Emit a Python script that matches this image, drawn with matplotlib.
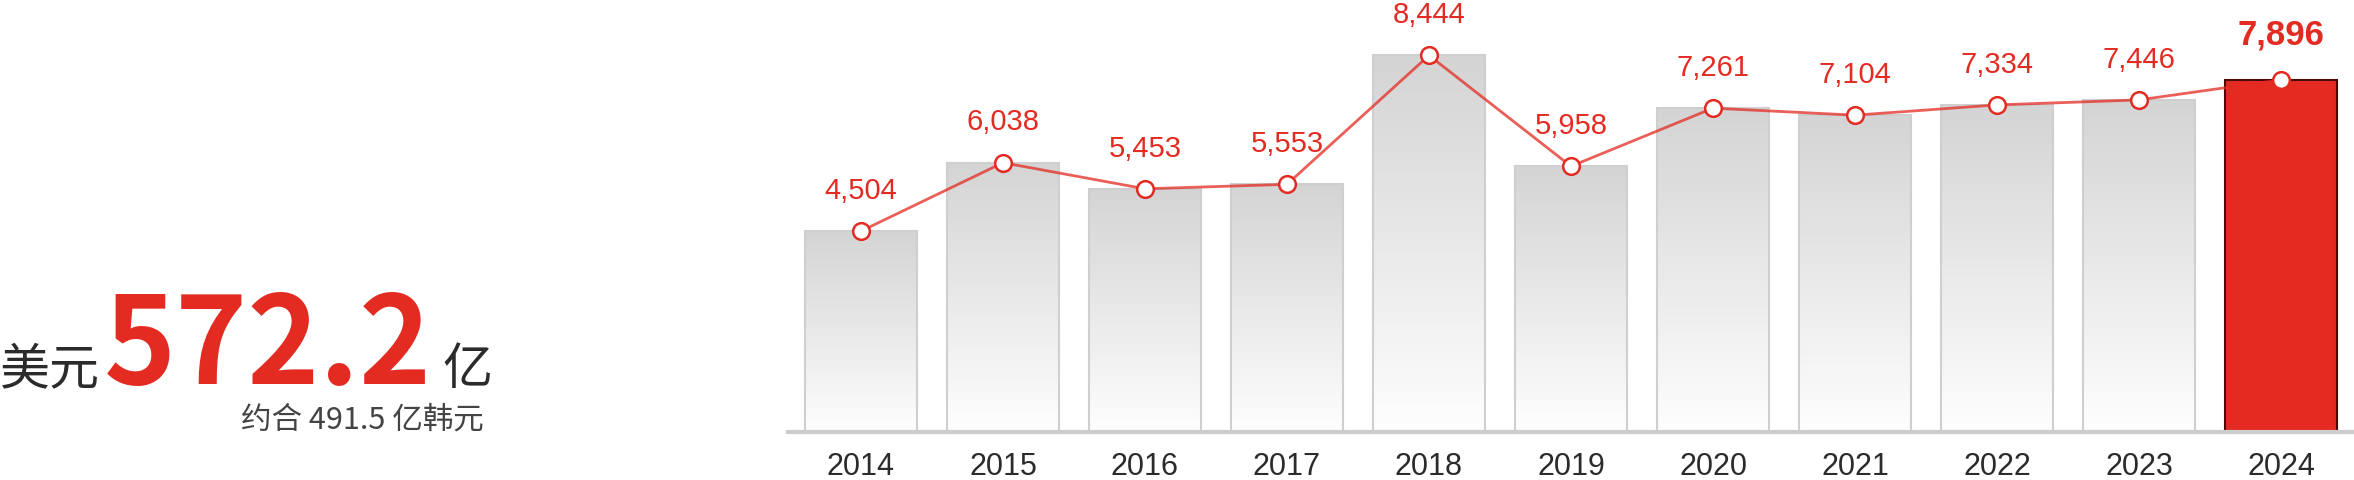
import numpy as np
import matplotlib.pyplot as plt
from matplotlib.patches import Rectangle
from matplotlib.colors import LinearSegmentedColormap

years = ['2014', '2015', '2016', '2017', '2018', '2019', '2020', '2021', '2022', '2023', '2024']
values = [4504, 6038, 5453, 5553, 8444, 5958, 7261, 7104, 7334, 7446, 7896]
value_labels = ['4,504', '6,038', '5,453', '5,553', '8,444', '5,958', '7,261', '7,104', '7,334', '7,446', '7,896']

RED = '#e32b22'
GRAY_TXT = '#2b2b2b'
W, H = 2354, 480

plt.rcParams['font.family'] = ['Liberation Sans', 'Noto Sans CJK SC', 'DejaVu Sans']

fig = plt.figure(figsize=(W / 100, H / 100), dpi=100)
ax = fig.add_axes([788 / W, 48 / H, 1 - 788 / W, 432 / H])
ax.axis('off')

x = np.arange(len(years))
grad = np.linspace(1, 0, 256).reshape(-1, 1)
cmap = LinearSegmentedColormap.from_list('g', ['#fefefe', '#d4d4d4'])
for i, v in enumerate(values):
    if i == len(values) - 1:
        ax.bar(x[i], v, width=0.79, color='#e52a22', edgecolor='#4a0a08', linewidth=1.5, zorder=2)
        continue
    rect = Rectangle((x[i] - 0.395, 0), 0.79, v, facecolor='none', edgecolor='#cfcfcf',
                     linewidth=1.5, zorder=3)
    ax.add_patch(rect)
    im = ax.imshow(grad, extent=(x[i] - 0.395, x[i] + 0.395, 0, v), aspect='auto',
                   cmap=cmap, vmin=0, vmax=1, zorder=2)
    im.set_clip_path(rect)

ax.set_xlim(-0.514, 10.514)
ax.set_ylim(0, 9686)

ax.plot(x, values, color=RED, alpha=0.75, lw=2, zorder=4)
ax.plot(x, values, 'o', ms=12, mfc='white', mec=RED, mew=1.8, zorder=5)

for i, (v, lab) in enumerate(zip(values, value_labels)):
    last = i == len(values) - 1
    ax.annotate(lab, (x[i], v), xytext=(0, 32 if last else 29), textcoords='offset points',
                ha='center', va='center', color=RED,
                fontsize=25 if last else 21, fontweight='bold' if last else 'normal')

ax.axhline(0, color='#cccccc', lw=3, zorder=6, clip_on=False)
for i, y in enumerate(years):
    ax.text(x[i], -960, y, ha='center', va='baseline', fontsize=22, color=GRAY_TXT)

# left summary text
fig.text(0 / W, 1 - 384 / H, '美元', fontsize=36, color=GRAY_TXT, family='Noto Sans CJK SC',
         fontweight='medium', ha='left', va='baseline')
fig.text(104 / W, 1 - 384 / H, '572.2', fontsize=88, color=RED, family='Noto Sans CJK SC',
         fontweight='bold', ha='left', va='baseline')
fig.text(442 / W, 1 - 384 / H, '亿', fontsize=36, color=GRAY_TXT, family='Noto Sans CJK SC',
         fontweight='medium', ha='left', va='baseline')
fig.text(484 / W, 1 - 429 / H, '约合 491.5 亿韩元', fontsize=22, color='#444444',
         family='Noto Sans CJK SC', ha='right', va='baseline')

fig.savefig('out.png', dpi=100)
